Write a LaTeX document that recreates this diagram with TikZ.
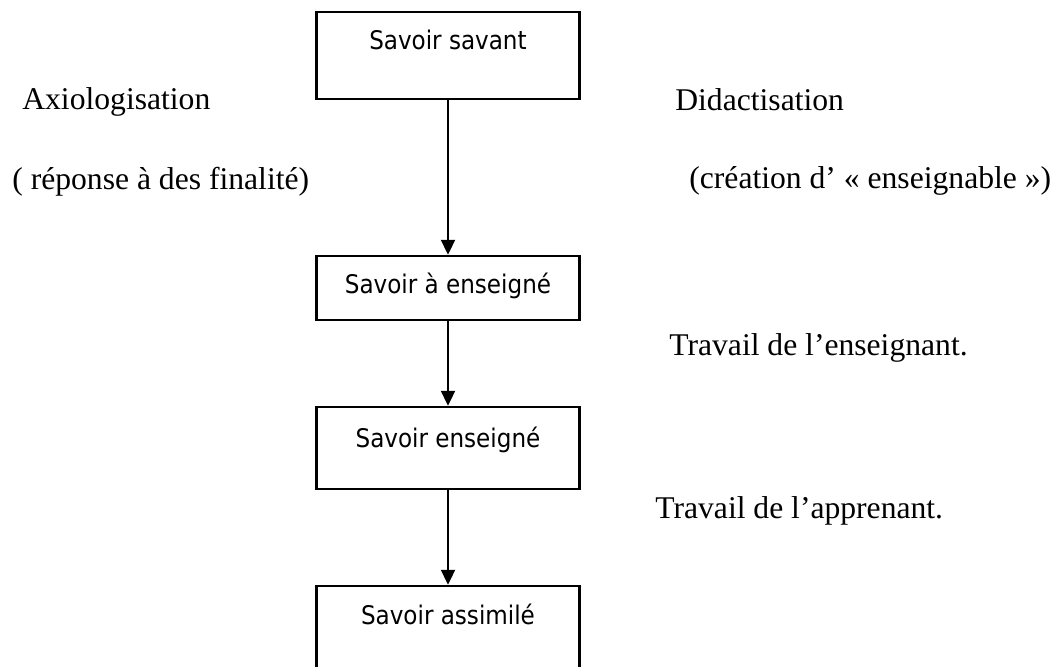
\documentclass[tikz,border=0pt]{standalone}
\usepackage{fontspec}
\setmainfont{Liberation Serif}
\setsansfont{DejaVu Sans Condensed}
\usetikzlibrary{arrows.meta}

\begin{document}
\begin{tikzpicture}[x=0.02cm,y=-0.02cm]
	\tikzset{
		savoir/.style={draw=black,line width=1.4pt,inner sep=0pt,anchor=base,
			minimum width=5.26cm,font=\sffamily\fontsize{14.6}{17}\selectfont},
		etape/.style={inner sep=0pt,anchor=base west,font=\fontsize{18}{21}\selectfont},
		fleche/.style={line width=1.2pt,-{Triangle[width=0.28cm,length=0.3cm]}}
	}
	\useasboundingbox (0,0) rectangle (1060,666);
	% boites
	\node [savoir,text height=0.74cm,text depth=1.0cm] (savant) at (448,49) {Savoir savant};
	\node [savoir,text height=0.74cm,text depth=0.54cm] (aenseigner) at (448,293) {Savoir à enseigné};
	\node [savoir,text height=0.80cm,text depth=0.84cm] (enseigne) at (448,447) {Savoir enseigné};
	\node [savoir,text height=0.76cm,text depth=1.4cm] (assimile) at (448,624) {Savoir assimilé};
	% fleches
	\draw [fleche] (savant) -- (aenseigner);
	\draw [fleche] (aenseigner) -- (enseigne);
	\draw [fleche] (enseigne) -- (assimile);
	% textes
	\node [etape] (axio) at (22,109) {Axiologisation};
	\node [etape] (finalite) at (12,189) {( réponse à des finalité)};
	\node [etape] (didac) at (675,110) {Didactisation};
	\node [etape] (creation) at (689,188) {(création d’ « enseignable »)};
	\node [etape] (enseignant) at (669,355) {Travail de l’enseignant.};
	\node [etape] (apprenant) at (655,518) {Travail de l’apprenant.};
\end{tikzpicture}
\end{document}
